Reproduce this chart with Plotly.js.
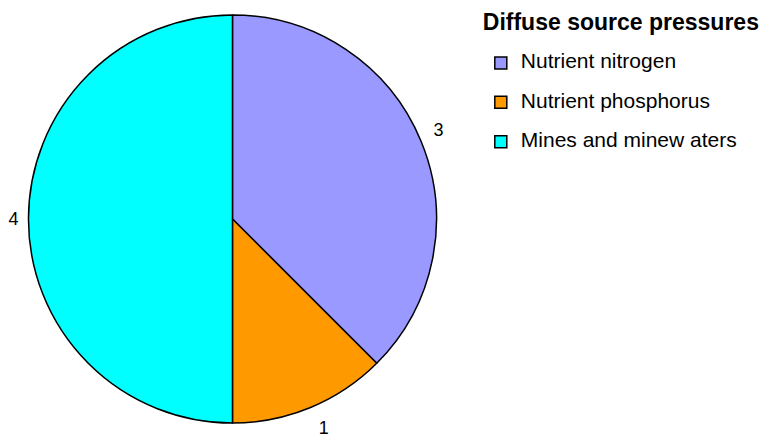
<!DOCTYPE html>
<html>
<head>
<meta charset="utf-8">
<script src="https://cdn.plot.ly/plotly-3.0.1.min.js"></script>
<style>
  body { margin: 0; background: #fff; }
  #PieDiv { width: 773px; height: 436px; }
</style>
</head>
<body>
<div id="PieDiv"></div>
<script>
var labels = ['Nutrient nitrogen', 'Nutrient phosphorus', 'Mines and minew aters'];
var values = [3, 1, 4];
var colors = ['#9999FF', '#FF9900', '#00FFFF'];
var legendTitle = 'Diffuse source pressures';

// bigger legend text on a taller (two-line) entry to get the wider row spacing
var legendLabels = labels.map(function(l) {
  return '<span style="font-size:21px">' + l + '</span><br> ';
});

var trace1 = {
  type: 'pie',
  labels: legendLabels,
  values: values,
  sort: false,
  direction: 'clockwise',
  rotation: 0,
  textinfo: 'value',
  // nudge the outside labels a bit further from the rim
  texttemplate: [
    '\u00a0<span style="font-size:18px">%{value}</span><br>\u00a0',
    '\u00a0<br><span style="font-size:18px">%{value}</span>',
    '%{value}\u00a0'
  ],
  textposition: 'outside',
  outsidetextfont: {size: [13, 13, 18], color: '#000', family: 'Liberation Sans, Arial, sans-serif'},
  marker: {
    colors: colors,
    line: {color: '#000', width: 1.5}
  },
  domain: {x: [0.0362, 0.5653], y: [0.0298, 0.9656]},
  hoverinfo: 'value'
};

var layout = {
  width: 773,
  height: 436,
  margin: {l: 0, r: 0, t: 0, b: 0},
  font: {family: 'Liberation Sans, Arial, sans-serif', size: 14, color: '#000'},
  paper_bgcolor: '#fff',
  showlegend: true,
  legend: {
    x: 0.622,
    y: 0.972,
    xanchor: 'left',
    yanchor: 'top',
    valign: 'top',
    title: {
      text: '<span style="font-size:23px"><b>' + legendTitle + '</b></span><br> ',
      font: {size: 13.5}
    },
    font: {size: 14},
    bgcolor: 'rgba(0,0,0,0)'
  }
};

Plotly.newPlot('PieDiv', [trace1], layout, {displayModeBar: false});
</script>
</body>
</html>
